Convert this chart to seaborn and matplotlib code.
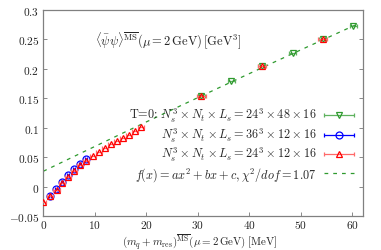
import numpy as np
import matplotlib
matplotlib.use("Agg")
import matplotlib.pyplot as plt
import seaborn as sns
from matplotlib.legend_handler import HandlerErrorbar

# ---- data ----
x48 = [30.7, 36.5, 42.4, 48.4, 54.2, 60.2]
y48 = [0.154, 0.180, 0.204, 0.227, 0.250, 0.273]
xerr48 = [0.7, 0.7, 0.7, 0.7, 0.7, 0.7]

x36 = [1.26, 2.4, 3.6, 4.8, 5.9, 7.1, 8.25]
y36 = [-0.016, -0.004, 0.007, 0.019, 0.029, 0.038, 0.046]
xerr36 = [0.2, 0.2, 0.2, 0.2, 0.2, 0.2, 0.2]

x24 = [0.0, 1.26, 2.56, 3.65, 4.8, 5.98, 7.1, 8.25, 9.67, 10.8, 12.0, 13.2,
       14.3, 15.5, 16.6, 17.8, 18.9, 30.7, 42.4, 54.2]
y24 = [-0.027, -0.016, -0.006, 0.006, 0.016, 0.027, 0.036, 0.044, 0.052, 0.059,
       0.065, 0.072, 0.077, 0.082, 0.088, 0.094, 0.101, 0.154, 0.204, 0.250]
xerr24 = [0.6] * 17 + [0.8, 0.8, 0.8]

fit_coef = [-2.24e-6, 0.004238, 0.026]   # a, b, c
fit_range = [0.0, 61.5]

yticks = [-0.05, 0, 0.05, 0.1, 0.15, 0.2, 0.25, 0.3]
yticklabels = ["$-0.05$", "$0$", "$0.05$", "$0.1$", "$0.15$", "$0.2$", "$0.25$", "$0.3$"]
xticks = [0, 10, 20, 30, 40, 50, 60]

labels = [
    r"T=0: $N_s^3\times N_t\times L_s = 24^3\times 48\times 16$",
    r"$N_s^3\times N_t\times L_s = 36^3\times 12\times 16$",
    r"$N_s^3\times N_t\times L_s = 24^3\times 12\times 16$",
    r"$f(x)=ax^2+bx+c, \chi^2/dof=1.07$",
]

sns.set_theme(style="ticks")
plt.rcParams["font.family"] = "serif"
plt.rcParams["font.serif"] = ["cmr10", "DejaVu Serif"]
plt.rcParams["mathtext.fontset"] = "cm"
plt.rcParams["axes.formatter.use_mathtext"] = True

fig = plt.figure(figsize=(3.81, 2.51), dpi=100)
ax = fig.add_axes([0.1137, 0.1355, 0.8383, 0.8207])

green = "#2e9a2e"
blue = "#0000ff"
red = "#ff0000"

xs = np.linspace(fit_range[0], fit_range[1], 100)
ys = np.polyval(fit_coef, xs)
sns.lineplot(x=xs, y=ys, ax=ax, color=green, lw=0.9, ls=(0, (3, 4)), zorder=1,
             legend=False)

ms = 5
eb1 = ax.errorbar(x48, y48, xerr=xerr48, fmt="v", ms=ms, mfc="none", mec=green,
                  ecolor="#5fb25f", mew=0.9, capsize=1.5, elinewidth=0.9, zorder=2)
eb2 = ax.errorbar(x36, y36, xerr=xerr36, fmt="o", ms=ms, mfc="none", mec=blue,
                  ecolor=blue, mew=0.9, capsize=1.5, elinewidth=0.9, zorder=3)
eb3 = ax.errorbar(x24, y24, xerr=xerr24, fmt="^", ms=ms, mfc="none", mec=red,
                  ecolor="#ff6a6a", mew=0.9, capsize=1.5, elinewidth=0.9, zorder=4)

fitline = ax.get_lines()[0]

ax.set_xlim(0, 62)
ax.set_ylim(-0.05, 0.3)
ax.set_yticks(yticks)
ax.set_yticklabels(yticklabels)
ax.set_xticks(xticks)
ax.set_xticklabels([f"${t}$" for t in xticks])
ax.tick_params(direction="in", length=3, width=0.6, top=False, right=True,
               labelsize=8.2, color="#777777", pad=3)
ax.tick_params(axis="x", pad=1.5)
for s in ax.spines.values():
    s.set_color("#808080")
    s.set_linewidth(0.9)

ax.text(10.0, 0.249,
        r"$\langle\bar\psi\psi\rangle^{\overline{\mathrm{MS}}}(\mu=2\,\mathrm{GeV})\,[\mathrm{GeV}^3]$",
        fontsize=9, va="center", ha="left")

ax.set_xlabel(r"$(m_q+m_{\mathrm{res}})^{\overline{\mathrm{MS}}}(\mu=2\,\mathrm{GeV})\;[\mathrm{MeV}]$",
              fontsize=7.9, va="center")
ax.xaxis.set_label_coords(0.49, -0.122)
ax.set_ylabel("")

hm = HandlerErrorbar(xerr_size=1.25)
leg = ax.legend([eb1, eb2, eb3, fitline], labels, loc="lower right",
                bbox_to_anchor=(1.0, 0.12), frameon=False, markerfirst=False,
                fontsize=8.8, handlelength=2.5, handletextpad=0.6,
                labelspacing=0.12, borderpad=0.2,
                handler_map={type(eb1): hm})

fig.savefig("out.png", dpi=100)
